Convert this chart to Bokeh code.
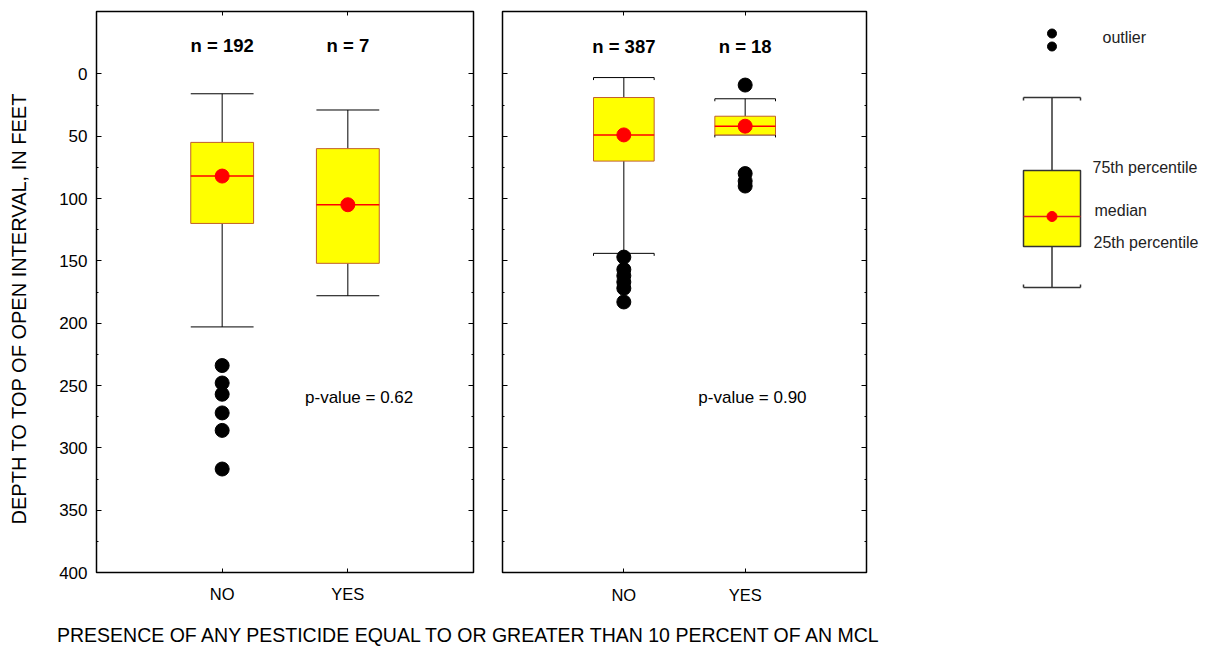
import math
from bokeh.plotting import figure
from bokeh.models import Range1d, FixedTicker, LinearAxis, Label, CustomLabelingPolicy
from bokeh.layouts import row, column
from bokeh.embed import file_html
from bokeh.resources import INLINE

# ---------------- data ----------------
categories = ["NO", "YES"]
cat_x = [1, 2]

left_n = [192, 7]
left_upper_whisker = [16, 29]
left_q1 = [55, 60]
left_median = [82, 105]
left_q3 = [120, 152]
left_lower_whisker = [203, 178]
left_outliers_no = [234, 248, 257, 272, 286, 317]
left_outliers_yes = []
left_p_value = "0.62"

right_n = [387, 18]
right_upper_whisker = [3, 20]
right_q1 = [19, 34]
right_median = [49, 42]
right_q3 = [70, 49]
right_lower_whisker = [144, 49]
right_outliers_no = [147, 157, 162, 167, 172, 183]
right_outliers_yes = [9, 80, 86, 90]
right_p_value = "0.90"

y_major_ticks = [0, 50, 100, 150, 200, 250, 300, 350, 400]
y_minor_ticks = [25, 75, 125, 175, 225, 275, 325, 375]
y_tick_labels = ["0", "50", "100", "150", "200", "250", "300", "350", "400"]

y_title = "DEPTH TO TOP OF OPEN INTERVAL, IN FEET"
x_title = "PRESENCE OF ANY PESTICIDE EQUAL TO OR GREATER THAN 10 PERCENT OF AN MCL"

# legend schematic (page-pixel scale of the legend panel)
legend_outliers = [33, 46]
legend_upper_whisker = 97
legend_q1 = 170
legend_median = 216
legend_q3 = 246
legend_lower_whisker = 287
legend_texts = ["outlier", "75th percentile", "median", "25th percentile"]
legend_text_y = [37, 167, 210, 242]
legend_text_x = [1102, 1092, 1094, 1093]

FONT = "Liberation Sans"
BOX_FILL = "#ffff00"
BOX_LINE = "#c0602a"
HALF = 0.25
PAGE_H = 646
BORDER_TOP = 11
FRAME_H = 561
BORDER_BOTTOM = 34
ROW_H = BORDER_TOP + FRAME_H + BORDER_BOTTOM

NO_LABELS = "for (let i = 0; i < indices.size; i++) { indices.unset(i) }\nreturn indices"


def hide_labels(ax, ticks):
    ax.major_label_overrides = {t: "" for t in ticks}
    ax.major_label_text_font_size = "1px"
    ax.major_label_standoff = 0
    ax.major_label_policy = CustomLabelingPolicy(code=NO_LABELS)


def add_axes(p, show_y_labels, x_standoff):
    yt = FixedTicker(ticks=y_major_ticks, minor_ticks=y_minor_ticks)
    xt = FixedTicker(ticks=cat_x, minor_ticks=[])
    for loc in ["left", "right"]:
        ax = LinearAxis(ticker=yt)
        ax.axis_line_color = None
        ax.major_tick_in = 5
        ax.major_tick_out = 0
        ax.minor_tick_in = 2
        ax.minor_tick_out = 0
        ax.major_tick_line_color = "black"
        ax.minor_tick_line_color = "black"
        if loc == "left" and show_y_labels:
            ax.major_label_overrides = {t: s for t, s in zip(y_major_ticks, y_tick_labels)}
            ax.major_label_text_font = FONT
            ax.major_label_text_font_size = "17px"
            ax.major_label_text_color = "black"
            ax.major_label_standoff = 9
        else:
            hide_labels(ax, y_major_ticks)
        p.add_layout(ax, loc)
    for loc in ["below", "above"]:
        ax = LinearAxis(ticker=xt)
        ax.axis_line_color = None
        ax.major_tick_in = 4
        ax.major_tick_out = 0
        ax.major_tick_line_color = "black"
        if loc == "below":
            ax.major_label_overrides = {x: c for x, c in zip(cat_x, categories)}
            ax.major_label_text_font = FONT
            ax.major_label_text_font_size = "16.5px"
            ax.major_label_text_color = "black"
            ax.major_label_standoff = x_standoff
        else:
            hide_labels(ax, cat_x)
        p.add_layout(ax, loc)


def draw_boxes(p, uw, q1, med, q3, lw, out_no, out_yes, cap_ends):
    left = [x - HALF for x in cat_x]
    right = [x + HALF for x in cat_x]
    p.segment(x0=cat_x, y0=uw, x1=cat_x, y1=q1, line_color="black", line_width=1)
    p.segment(x0=cat_x, y0=q3, x1=cat_x, y1=lw, line_color="black", line_width=1)
    p.segment(x0=left, y0=uw, x1=right, y1=uw, line_color="black", line_width=1)
    p.segment(x0=left, y0=lw, x1=right, y1=lw, line_color="black", line_width=1)
    if cap_ends:
        for ys in (uw, lw):
            p.segment(x0=left, y0=ys, x1=left, y1=[v + 2 for v in ys], line_color="black", line_width=1)
            p.segment(x0=right, y0=ys, x1=right, y1=[v + 2 for v in ys], line_color="black", line_width=1)
    p.quad(left=left, right=right, top=q1, bottom=q3, fill_color=BOX_FILL,
           line_color=BOX_LINE, line_width=1)
    p.segment(x0=left, y0=med, x1=right, y1=med, line_color="red", line_width=1.5)
    p.scatter(x=cat_x, y=med, size=14, fill_color="red", line_color="red")
    p.scatter(x=[cat_x[0]] * len(out_no), y=out_no, size=14, fill_color="black", line_color="black")
    p.scatter(x=[cat_x[1]] * len(out_yes), y=out_yes, size=14, fill_color="black", line_color="black")


def base_panel(frame_w, bl, br):
    p = figure(frame_width=frame_w, frame_height=FRAME_H,
               min_border_left=bl, min_border_right=br,
               min_border_top=BORDER_TOP, min_border_bottom=BORDER_BOTTOM,
               x_range=Range1d(0, 3), y_range=Range1d(400, -50),
               x_axis_type=None, y_axis_type=None, title=None,
               output_backend="svg", toolbar_location=None)
    p.outline_line_color = "black"
    p.outline_line_width = 1.5
    p.background_fill_color = "white"
    p.border_fill_color = "white"
    return p


def blank_row_fig(x0, x1):
    # frame aligned with the panels; y range in page pixels of the frame
    f = figure(frame_width=x1 - x0, frame_height=FRAME_H,
               min_border_left=0, min_border_right=0,
               min_border_top=BORDER_TOP, min_border_bottom=BORDER_BOTTOM,
               x_range=Range1d(x0, x1), y_range=Range1d(BORDER_TOP + FRAME_H, BORDER_TOP),
               x_axis_type=None, y_axis_type=None, title=None,
               output_backend="svg", toolbar_location=None)
    f.outline_line_color = None
    f.xgrid.visible = False
    f.ygrid.visible = False
    return f


# ---------------- y title strip ----------------
py = blank_row_fig(0, 36)
py.add_layout(Label(x=18, y=308, text=y_title, angle=math.pi / 2, text_font=FONT,
                    text_font_size="20px", text_color="black",
                    text_align="center", text_baseline="middle"))

# ---------------- left panel ----------------
pl = base_panel(377, 60, 14)
add_axes(pl, True, 12)
draw_boxes(pl, left_upper_whisker, left_q1, left_median, left_q3, left_lower_whisker,
           left_outliers_no, left_outliers_yes, False)
for x, n in zip(cat_x, left_n):
    pl.add_layout(Label(x=x, y=-23, text=f"n = {n}", text_font=FONT, text_font_size="18.5px",
                        text_font_style="bold", text_color="black",
                        text_align="center", text_baseline="middle"))
pl.add_layout(Label(x=2.09, y=260, text=f"p-value = {left_p_value}", text_font=FONT,
                    text_font_size="17px", text_color="black",
                    text_align="center", text_baseline="middle"))

# ---------------- right panel ----------------
pr = base_panel(364, 15, 10)
add_axes(pr, False, 13)
draw_boxes(pr, right_upper_whisker, right_q1, right_median, right_q3, right_lower_whisker,
           right_outliers_no, right_outliers_yes, True)
for x, n in zip(cat_x, right_n):
    pr.add_layout(Label(x=x, y=-22, text=f"n = {n}", text_font=FONT, text_font_size="18.5px",
                        text_font_style="bold", text_color="black",
                        text_align="center", text_baseline="middle"))
pr.add_layout(Label(x=2.06, y=260, text=f"p-value = {right_p_value}", text_font=FONT,
                    text_font_size="17px", text_color="black",
                    text_align="center", text_baseline="middle"))

# ---------------- legend panel ----------------
pg = blank_row_fig(876, 1210)
lx, lhw = 1051.5, 28.5
pg.scatter(x=[lx] * len(legend_outliers), y=legend_outliers, size=9, fill_color="black", line_color="black")
pg.segment(x0=[lx, lx], y0=[legend_upper_whisker, legend_q3], x1=[lx, lx],
           y1=[legend_q1, legend_lower_whisker], line_color="#333333", line_width=1.5)
pg.segment(x0=[lx - lhw, lx - lhw], y0=[legend_upper_whisker, legend_lower_whisker],
           x1=[lx + lhw, lx + lhw], y1=[legend_upper_whisker, legend_lower_whisker],
           line_color="#333333", line_width=1.5)
pg.segment(x0=[lx - lhw, lx + lhw, lx - lhw, lx + lhw],
           y0=[legend_upper_whisker] * 2 + [legend_lower_whisker] * 2,
           x1=[lx - lhw, lx + lhw, lx - lhw, lx + lhw],
           y1=[legend_upper_whisker + 3] * 2 + [legend_lower_whisker - 3] * 2,
           line_color="#333333", line_width=1.5)
pg.quad(left=[lx - lhw], right=[lx + lhw], top=[legend_q1], bottom=[legend_q3],
        fill_color=BOX_FILL, line_color="#333333", line_width=1.5)
pg.segment(x0=[lx - lhw], y0=[legend_median], x1=[lx + lhw], y1=[legend_median],
           line_color="#e02020", line_width=1.5)
pg.scatter(x=[lx], y=[legend_median], size=10, fill_color="red", line_color="red")
for t, tx, ty in zip(legend_texts, legend_text_x, legend_text_y):
    pg.add_layout(Label(x=tx, y=ty, text=t, text_font=FONT, text_font_size="16px",
                        text_color="#222222", text_align="left", text_baseline="middle"))

# ---------------- x title strip ----------------
px = figure(width=900, height=PAGE_H - ROW_H, min_border=0,
            x_range=Range1d(0, 900), y_range=Range1d(PAGE_H, ROW_H),
            x_axis_type=None, y_axis_type=None, title=None,
            output_backend="svg", toolbar_location=None)
px.outline_line_color = None
px.xgrid.visible = False
px.ygrid.visible = False
px.add_layout(Label(x=469.5, y=634, text=x_title, text_font=FONT, text_font_size="19.5px",
                    text_color="black", text_align="center", text_baseline="middle"))

layout = column(row(py, pl, pr, pg), px)
open("out.html", "w").write(file_html(layout, INLINE))
